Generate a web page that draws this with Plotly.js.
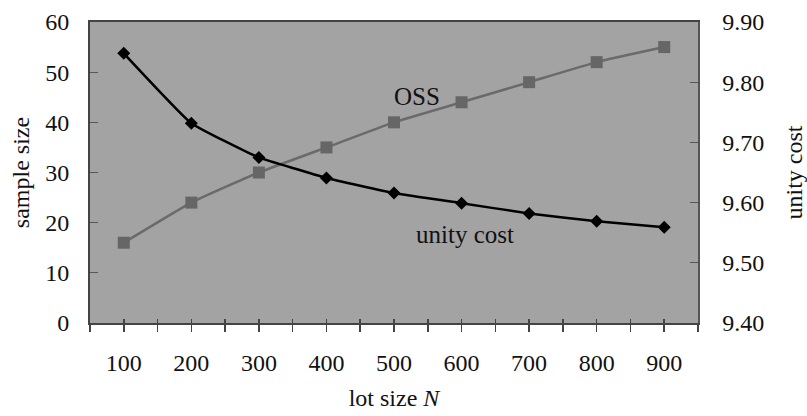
<!DOCTYPE html>
<html>
<head>
<meta charset="utf-8">
<script src="https://cdn.plot.ly/plotly-3.0.1.min.js"></script>
<style>html,body{margin:0;padding:0;background:#fff;}#chart{width:807px;height:416px;}</style>
</head>
<body>
<div id="chart"></div>
<script>
const lotSizes = [100, 200, 300, 400, 500, 600, 700, 800, 900];
const oss = [16, 24, 30, 35, 40, 44, 48, 52, 55];
const unityCost = [9.848, 9.732, 9.675, 9.641, 9.616, 9.599, 9.582, 9.569, 9.559];
const xTickVals = [50, 100, 150, 200, 250, 300, 350, 400, 450, 500, 550, 600, 650, 700, 750, 800, 850, 900, 950];
const xTickText = ['', '100', '', '200', '', '300', '', '400', '', '500', '', '600', '', '700', '', '800', '', '900', ''];
const leftTicks = [0, 10, 20, 30, 40, 50, 60];
const rightTicks = [9.40, 9.50, 9.60, 9.70, 9.80, 9.90];

const font = {family: '"Liberation Serif", "Times New Roman", serif', size: 24, color: '#111'};
const annFont = {family: '"Liberation Serif", "Times New Roman", serif', size: 25, color: '#111'};

const traces = [
  {
    x: lotSizes, y: oss, name: 'OSS', type: 'scatter', mode: 'lines+markers',
    line: {color: '#6a6a6a', width: 2.5, shape: 'spline', smoothing: 0.4},
    marker: {symbol: 'square', size: 12, color: '#666666'},
    xaxis: 'x', yaxis: 'y'
  },
  {
    x: lotSizes, y: unityCost, name: 'unity cost', type: 'scatter', mode: 'lines+markers',
    line: {color: '#000000', width: 2.5, shape: 'spline', smoothing: 0.35},
    marker: {symbol: 'diamond', size: 10, color: '#000000'},
    xaxis: 'x', yaxis: 'y2'
  },
  {
    x: [], y: [], xaxis: 'x2', yaxis: 'y', showlegend: false, hoverinfo: 'skip'
  }
];

const layout = {
  width: 807, height: 416,
  margin: {l: 90, r: 109, t: 22, b: 93},
  paper_bgcolor: '#ffffff',
  plot_bgcolor: '#a3a3a3',
  showlegend: false,
  font: font,
  xaxis: {
    range: [50, 950], tickmode: 'array', tickvals: xTickVals, ticktext: xTickText,
    ticks: 'outside', ticklen: 7, tickwidth: 1.5, tickcolor: '#444',
    showline: true, linecolor: '#444', linewidth: 2, mirror: true,
    showgrid: false, zeroline: false, ticklabelstandoff: 10,
    tickfont: font,
    title: {text: 'lot size <i>N</i>', font: font, standoff: 14}
  },
  xaxis2: {
    overlaying: 'x', matches: 'x', range: [50, 950], tickmode: 'array', tickvals: xTickVals,
    ticks: 'inside', ticklen: 4, tickwidth: 1.5, tickcolor: '#444',
    showticklabels: false, showline: false, showgrid: false, zeroline: false
  },
  yaxis: {
    range: [0, 60], tickmode: 'array', tickvals: leftTicks,
    ticks: 'inside', ticklen: 8, tickwidth: 1, tickcolor: '#555',
    showline: true, linecolor: '#444', linewidth: 2,
    showgrid: false, zeroline: false, ticklabelstandoff: 14,
    tickfont: font,
    title: {text: 'sample size', font: font, standoff: 9}
  },
  yaxis2: {
    range: [9.40, 9.90], overlaying: 'y', side: 'right', tickmode: 'array', tickvals: rightTicks,
    tickformat: '.2f',
    ticks: 'inside', ticklen: 8, tickwidth: 1, tickcolor: '#555',
    showline: true, linecolor: '#555', linewidth: 1.5,
    showgrid: false, zeroline: false, ticklabelstandoff: 18,
    tickfont: font,
    title: {text: 'unity cost', font: font, standoff: 23}
  },
  annotations: [
    {x: 534, y: 45.2, xref: 'x', yref: 'y', text: 'OSS', showarrow: false, font: annFont},
    {x: 605, y: 17.6, xref: 'x', yref: 'y', text: 'unity cost', showarrow: false, font: annFont}
  ]
};

Plotly.newPlot('chart', traces, layout, {displayModeBar: false, staticPlot: true});
</script>
</body>
</html>
